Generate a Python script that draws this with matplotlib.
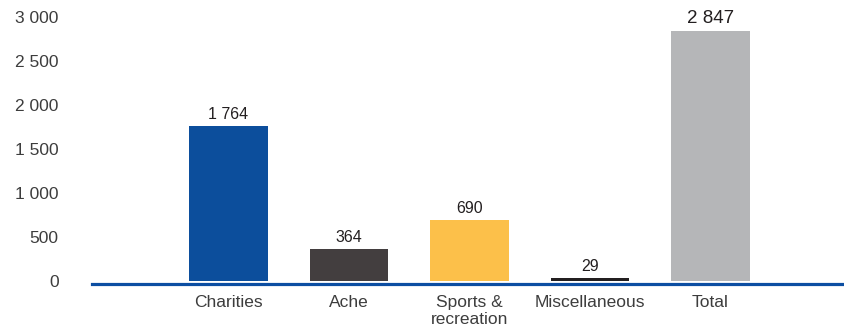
import matplotlib
matplotlib.use("Agg")
import matplotlib.pyplot as plt

categories = ["Charities", "Ache", "Sports &\nrecreation", "Miscellaneous", "Total"]
values = [1764, 364, 690, 29, 2847]
bar_colors = ["#0c4e9c", "#433e3f", "#fcc04a", "#231f20", "#b5b6b8"]
label_sizes = [11.5, 11.5, 11.5, 11.5, 13.5]
y_ticks = [0, 500, 1000, 1500, 2000, 2500, 3000]


def fmt_space(v):
    return f"{v:,}".replace(",", " ")


def main():
    plt.rcParams["font.family"] = ["Liberation Sans", "DejaVu Sans"]

    fig = plt.figure(figsize=(8.45, 3.3), dpi=100)
    ax = fig.add_axes([92 / 845, 1 - 281 / 330, 753 / 845, 263.6 / 330])

    x = list(range(len(categories)))
    bars = ax.bar(x, values, width=0.655, color=bar_colors, zorder=3)

    # value on top of each bar, thousands split by a space
    for b, v, fs in zip(bars, values, label_sizes):
        ax.text(b.get_x() + b.get_width() / 2, v + 45, fmt_space(v),
                ha="center", va="bottom", fontsize=fs, color="#231f20")

    ax.set_xlim(-1.133, 5.116)
    ax.set_ylim(0, 3000)
    ax.tick_params(axis="both", length=0, labelcolor="#3d3d3d")
    ax.tick_params(axis="x", pad=8, labelsize=12.5)
    ax.tick_params(axis="y", pad=24, labelsize=12.5)
    ax.set_xticks(x)
    ax.set_xticklabels(categories, linespacing=0.95)
    ax.set_yticks(y_ticks)
    ax.set_yticklabels([fmt_space(t) for t in y_ticks])

    for side in ["top", "right", "left"]:
        ax.spines[side].set_visible(False)
    ax.spines["bottom"].set_color("#0c4ea2")
    ax.spines["bottom"].set_linewidth(2.3)
    ax.spines["bottom"].set_position(("outward", 1.8))

    fig.savefig("out.png", dpi=100)


if __name__ == "__main__":
    main()
